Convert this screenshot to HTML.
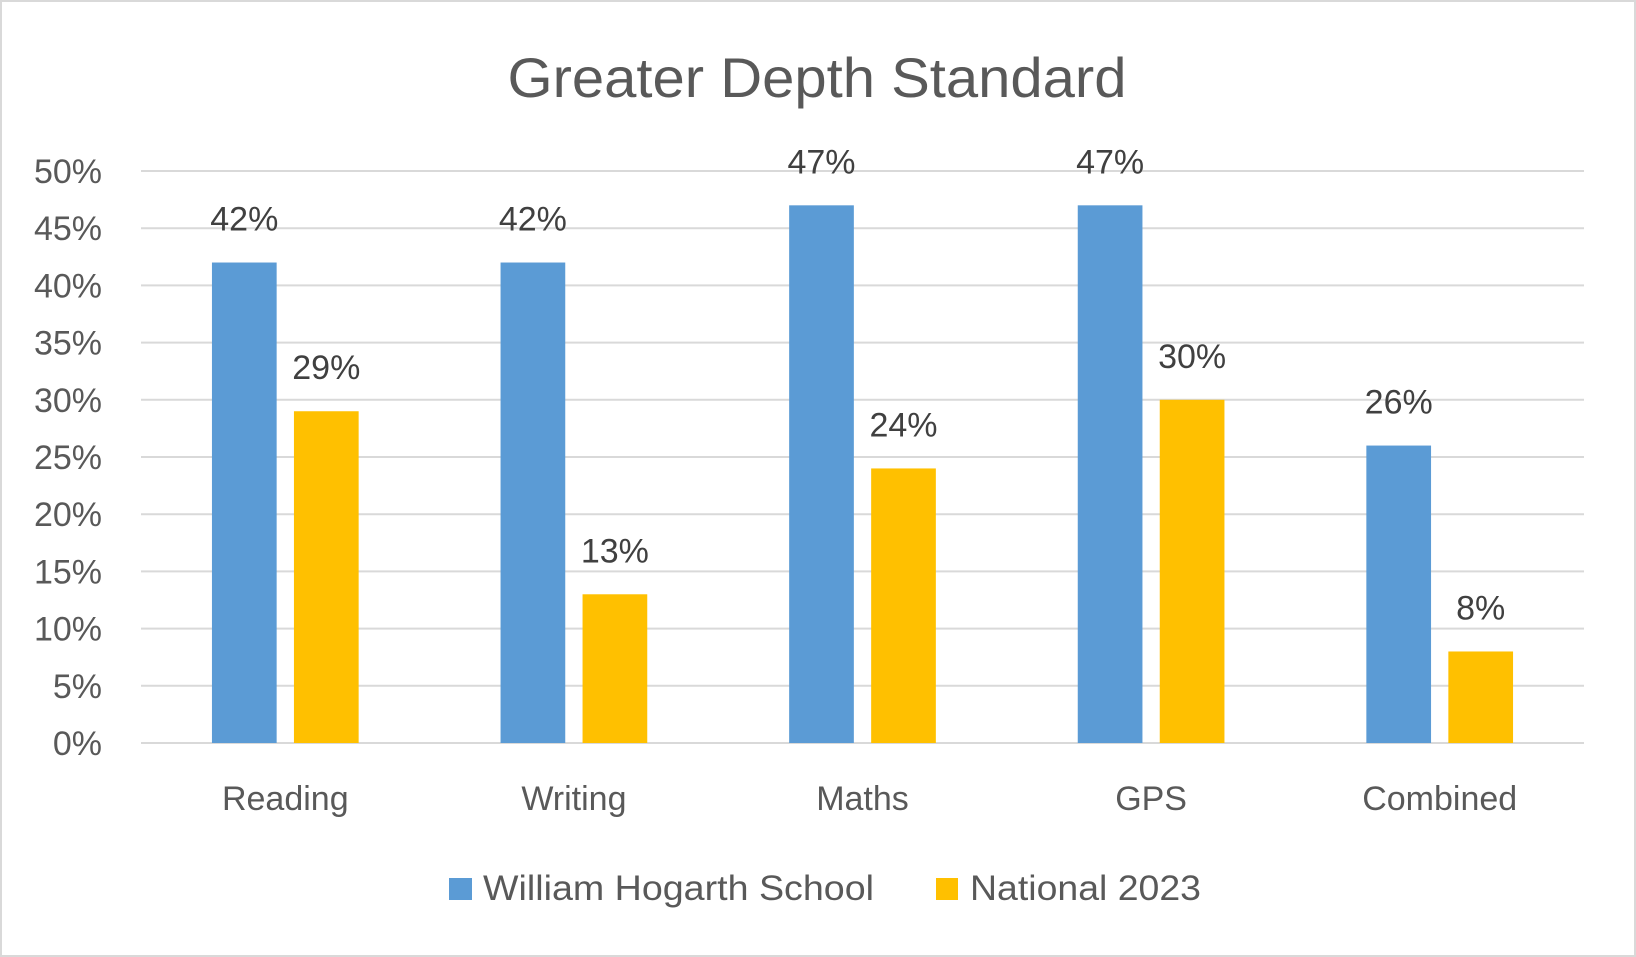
<!DOCTYPE html>
<html><head><meta charset="utf-8"><style>
html,body{margin:0;padding:0;background:#fff}
svg{display:block;font-family:"Liberation Sans",sans-serif}
</style></head><body>
<svg id="chart" width="1636" height="957" viewBox="0 0 1636 957" xmlns="http://www.w3.org/2000/svg">
<rect x="1" y="1" width="1634" height="955" fill="#fff" stroke="#D9D9D9" stroke-width="2"/>
<text x="817" y="97" text-anchor="middle" font-size="56" fill="#595959" textLength="619" lengthAdjust="spacingAndGlyphs">Greater Depth Standard</text>
<g id="grid"></g>
<g id="yticks"></g>
<g id="bars"></g>
<g id="xlabels"></g>
<g>
<rect x="449" y="878" width="23" height="22" fill="#5B9BD5"/>
<text x="483" y="900" font-size="35" fill="#595959" textLength="391" lengthAdjust="spacingAndGlyphs">William Hogarth School</text>
<rect x="936" y="878" width="22" height="22" fill="#FFC000"/>
<text x="970" y="900" font-size="35" fill="#595959" textLength="231" lengthAdjust="spacingAndGlyphs">National 2023</text>
</g>
</svg>
<script>
const categories = ["Reading","Writing","Maths","GPS","Combined"];
const schoolValues = [42,42,47,47,26];
const nationalValues = [29,13,24,30,8];
const tickValues = [0,5,10,15,20,25,30,35,40,45,50];

const NS="http://www.w3.org/2000/svg";
const x0=141, x1=1584, yBase=743, yTop=171, yMax=50;
const band=(x1-x0)/categories.length;
function yScale(v){return yBase-(v/yMax)*(yBase-yTop);}
function xCenter(i){return x0+band*(i+0.5);}
function mk(tag,attrs,parent){const e=document.createElementNS(NS,tag);for(const k in attrs)e.setAttribute(k,attrs[k]);parent.appendChild(e);return e;}

const grid=document.getElementById('grid'), yt=document.getElementById('yticks'), bars=document.getElementById('bars'), xl=document.getElementById('xlabels');
tickValues.forEach(t=>{
  const y=yScale(t);
  const l=mk('line',{x1:x0,x2:x1,y1:y,y2:y,stroke:'#D9D9D9','stroke-width':2},grid);
  
  
  const tx=mk('text',{x:102,y:y+12,'text-anchor':'end','font-size':34,fill:'#595959'},yt);
  tx.textContent=t+'%';
  
  
});
const bw=64.7, off=41;
categories.forEach((c,i)=>{
  const cx=xCenter(i);
  [[schoolValues[i],'#5B9BD5',-off,'school'],[nationalValues[i],'#FFC000',off,'national']].forEach(([v,col,o,s])=>{
    const y=yScale(v);
    const r=mk('rect',{x:cx+o-bw/2,y:y,width:bw,height:yBase-y,fill:col},bars);
    
    
    const t=mk('text',{x:cx+o,y:y-32,'text-anchor':'middle','font-size':34,fill:'#404040'},bars);
    t.textContent=v+'%';
    
    
  });
  const t=mk('text',{x:cx,y:810,'text-anchor':'middle','font-size':34,fill:'#595959'},xl);
  t.textContent=c;
  
  
});
</script>
</body></html>
